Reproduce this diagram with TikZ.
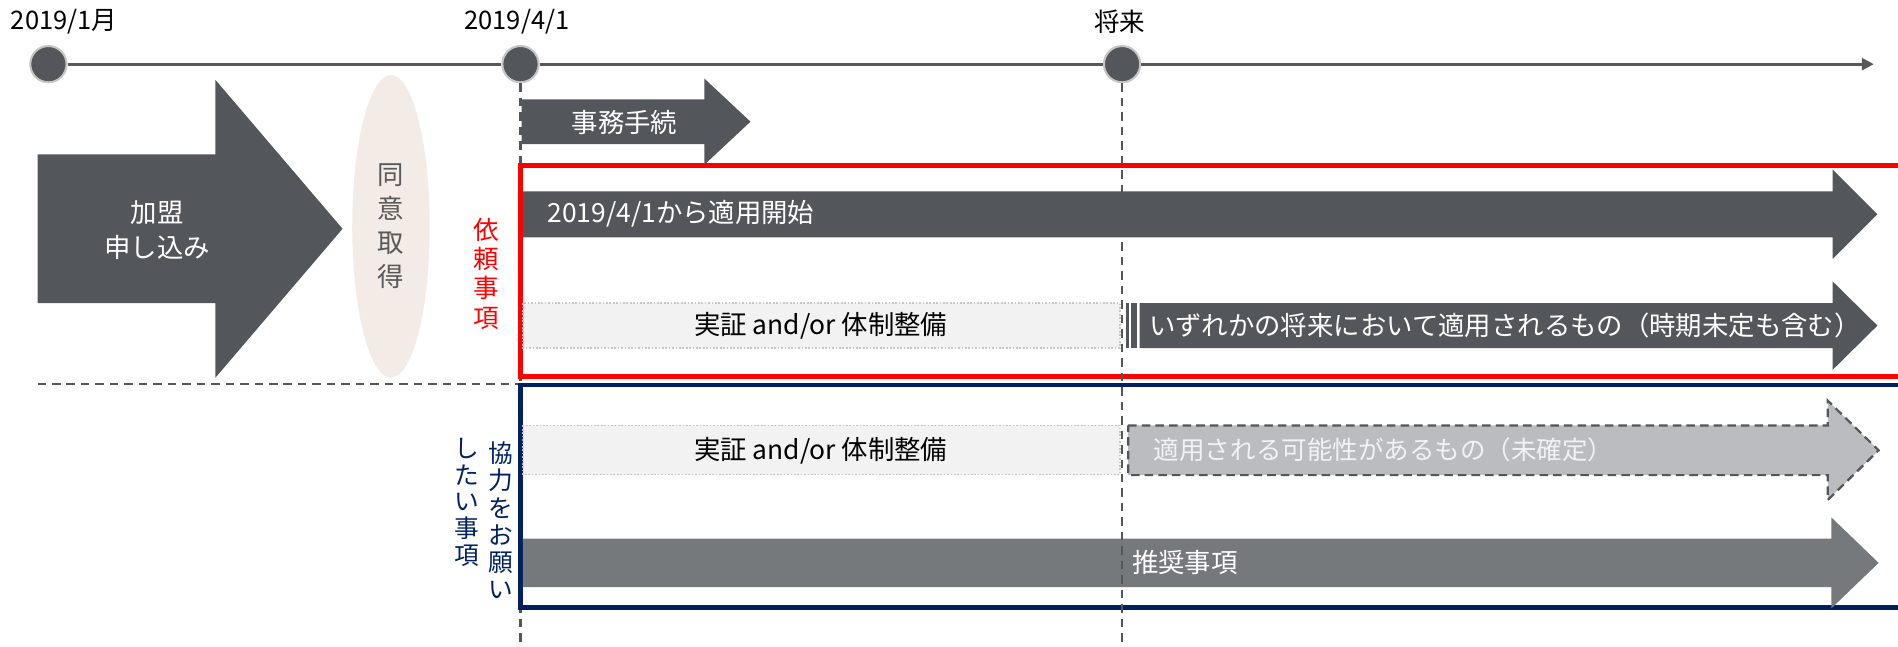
\documentclass[tikz,border=0pt]{standalone}
\usepackage{fontspec}
\setmainfont{Noto Sans CJK JP}
\usepackage{xcolor}
\usepackage{tikz}
\usetikzlibrary{shapes,arrows.meta}
\definecolor{darkarr}{HTML}{53565A}
\definecolor{midarr}{HTML}{76797C}
\definecolor{lightarr}{HTML}{BBBCBF}
\definecolor{lightbox}{HTML}{F2F2F2}
\definecolor{beige}{HTML}{F3EBE5}
\definecolor{navy}{HTML}{002060}
\definecolor{lineg}{HTML}{595959}
\tikzstyle{tdot}=[circle,fill=darkarr,draw=gray!45,line width=1.2pt,minimum size=0.75cm,inner sep=0pt]
\tikzstyle{tline}=[lineg,line width=1.6pt]
\tikzstyle{vdash}=[darkarr,line width=1.3pt,dash pattern=on 5pt off 3.5pt]
\tikzstyle{datelbl}=[font=\fontsize{15}{18}\selectfont,text=black,inner sep=0pt]
\tikzstyle{wtxt}=[font=\fontsize{15.5}{18}\selectfont,text=white,inner sep=0pt]
\tikzstyle{btxt}=[font=\fontsize{15.5}{18}\selectfont,text=black,inner sep=0pt]
\tikzstyle{testbox}=[fill=lightbox,draw=gray!45,densely dotted,line width=1pt]
\newcommand{\blockarrow}[7]{
  \path[#1] (#2,#3-#4) -- (#5,#3-#4) -- (#5,#3-#6) -- (#7,#3)
    -- (#5,#3+#6) -- (#5,#3+#4) -- (#2,#3+#4) -- cycle;
}

\begin{document}
\begin{tikzpicture}[x=0.025cm,y=-0.025cm]
\newcommand{\frw}{2.8pt}
\useasboundingbox (0,0) rectangle (1568,534);

% timeline
\node[tdot] (t1) at (40,53) {};
\node[tdot] (t2) at (430,53) {};
\node[tdot] (t3) at (927,53) {};
\coordinate (tend) at (1548,53);
\coordinate (bot) at (0,534);
\draw[tline] (t1) -- (t2);
\draw[tline] (t2) -- (t3);
\draw[tline,-{Triangle[length=7pt,width=7pt]}] (t3) -- (tend);
\node[datelbl] (d1) at (53,18) {2019/1月};
\node[datelbl] (d2) at (427,18) {2019/4/1};
\node[datelbl] (d3) at (925,18) {将来};
\draw[vdash] (t2) -- (t2 |- bot);

% left side
\blockarrow{fill=darkarr}{31}{189}{61.5}{178}{123}{283}
\node[wtxt,align=center,font=\fontsize{15.5}{20.6}\selectfont] (join) at (130,190) {加盟\\申し込み};
\node[ellipse,fill=beige,minimum width=1.6cm,minimum height=6.25cm,inner sep=0pt,
  align=center,text=lineg,font=\fontsize{15.5}{19.9}\selectfont] (agree) at (323,187) {同\\意\\取\\得};
\coordinate (hd) at (31,317);
\draw[vdash] (hd) -- (hd -| t2);

% frames
\draw[red,line width=\frw] (430,137) rectangle (1585,311);
\draw[navy,line width=\frw] (430,318) rectangle (1585,502);
\node[align=center,text=red,inner sep=0pt,font=\fontsize{15}{17.2}\selectfont] (req) at (402,226) {依\\頼\\事\\項};
\node[align=center,text=navy,inner sep=0pt,font=\fontsize{14.5}{16}\selectfont] (coop1) at (413.5,430) {協\\力\\を\\お\\願\\い};
\node[align=center,text=navy,inner sep=0pt,font=\fontsize{14.5}{15.6}\selectfont] (coop2) at (386,415) {し\\た\\い\\事\\項};

% arrows
\blockarrow{fill=darkarr}{431}{100.5}{18.5}{582}{35.5}{620}
\node[wtxt] (proc) at (516,101) {事務手続};
\blockarrow{fill=darkarr}{432}{177}{19}{1514}{37}{1551}
\node[wtxt,anchor=west] (start) at (452,177) {2019/4/1から適用開始};

\path[testbox] (432,250.5) rectangle (925,287.5);
\node[btxt] (test1) at (678,269) {実証 and/or 体制整備};
\fill[darkarr] (930,250.5) rectangle (932.3,287.5);
\fill[darkarr] (934.6,250.5) rectangle (939.1,287.5);
\blockarrow{fill=darkarr}{941.4}{269}{18.5}{1514}{36.5}{1551}
\node[wtxt,anchor=west] (future) at (949,269) {いずれかの将来において適用されるもの（時期未定も含む）};

\path[testbox] (432,351.5) rectangle (925,392);
\node[btxt] (test2) at (678,372) {実証 and/or 体制整備};
\blockarrow{fill=lightarr,draw=darkarr,line width=1.3pt,dash pattern=on 5pt off 3pt}{932}{372}{20.5}{1510}{41}{1552}
\node[wtxt,anchor=west,text=lightbox,font=\fontsize{15}{18}\selectfont] (maybe) at (953,372) {適用される可能性があるもの（未確定）};

\blockarrow{fill=midarr}{432}{465}{20}{1513}{37.5}{1552}
\node[wtxt,anchor=west] (recom) at (935,465) {推奨事項};

% future line on top
\draw[vdash] (t3) -- (t3 |- bot);

\end{tikzpicture}
\end{document}
